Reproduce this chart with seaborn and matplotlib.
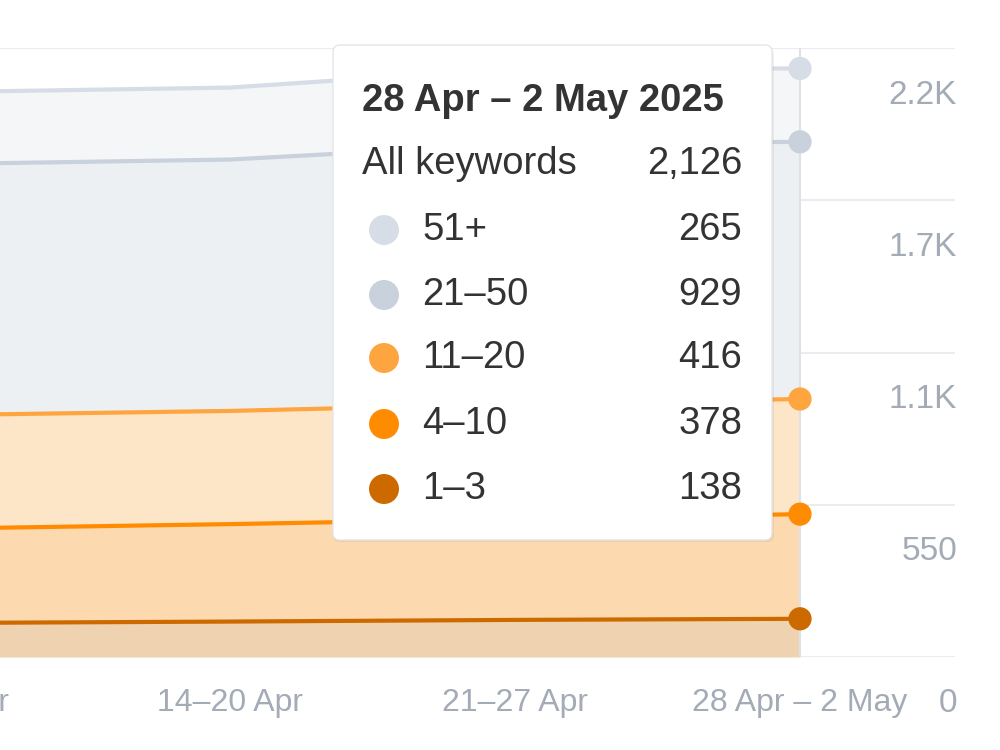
import numpy as np
import matplotlib
matplotlib.use("Agg")
import matplotlib.pyplot as plt
import matplotlib.transforms as mtransforms
from matplotlib.patches import FancyBboxPatch, Circle
import seaborn as sns

# weekly keyword counts by ranking position bucket
weeks = ["7–13 Apr", "14–20 Apr", "21–27 Apr", "28 Apr – 2 May"]
pos_1_3 = [123, 128, 134, 138]
pos_4_10 = [341, 352, 365, 378]
pos_11_20 = [410, 409, 415, 416]
pos_21_50 = [907, 908, 939, 929]
pos_51 = [260, 260, 273, 265]

series_names = ["1–3", "4–10", "11–20", "21–50", "51+"]
line_colors = ["#cc6a00", "#ff8c00", "#ffa53f", "#c8d1dc", "#d6dde6"]
fill_colors = ["#efd3b1", "#fdd9b0", "#fde5c7", "#edf0f3", "#f4f6f8"]

y_ticks = [0, 550, 1100, 1650, 2200]
y_labels = ["0", "550", "1.1K", "1.7K", "2.2K"]

sns.set_theme(style="white")
plt.rcParams['font.family'] = ['Liberation Sans', 'DejaVu Sans']

fig = plt.figure(figsize=(10, 7.5), dpi=100)
ax = fig.add_axes([-0.055, 93 / 750, 1.01, 609 / 750])

x = np.arange(len(weeks))
stack = np.cumsum(np.array([pos_1_3, pos_4_10, pos_11_20, pos_21_50, pos_51]), axis=0)

lower = np.zeros(len(weeks))
for i in range(len(series_names)):
    ax.fill_between(x, lower, stack[i], color=fill_colors[i], lw=0, zorder=1)
    lower = stack[i]

ax.axvline(x[-1], color="#dde2e8", lw=1.5, zorder=2)

for i in range(len(series_names)):
    sns.lineplot(x=x, y=stack[i], color=line_colors[i], linewidth=3, ax=ax, zorder=3)
    sns.scatterplot(x=[x[-1]], y=[stack[i][-1]], color=line_colors[i], s=280,
                    edgecolor="none", ax=ax, zorder=4)

ax.set_xlim(0, 1010 / 285)
ax.set_ylim(0, 2200)
ax.set_yticks(y_ticks)
ax.set_yticklabels([])
ax.yaxis.grid(True, color="#eaecef", lw=1.5)
ax.set_axisbelow(True)
for s in ax.spines.values():
    s.set_visible(False)

ax.set_xticks(x)
ax.set_xticklabels(weeks, fontsize=23, color="#a3abb6")
ax.tick_params(axis="x", length=0, pad=22)
ax.tick_params(axis="y", length=0)

# y labels sit below their gridlines, right aligned
ylab_tr = mtransforms.offset_copy(ax.get_yaxis_transform(), fig=fig, x=2, y=-47, units="dots")
for v, lab in zip(y_ticks, y_labels):
    ax.text(1.0, v, lab, transform=ylab_tr, ha="right", va="center",
            fontsize=24, color="#a3abb6", clip_on=False)

# tooltip
tr = fig.dpi_scale_trans
shadow = FancyBboxPatch((3.33, 2.08), 4.41, 4.95, boxstyle="round,pad=0,rounding_size=0.07",
                        transform=tr, facecolor="#000000", alpha=0.06, edgecolor="none", zorder=5)
box = FancyBboxPatch((3.33, 2.10), 4.39, 4.95, boxstyle="round,pad=0,rounding_size=0.07",
                     transform=tr, facecolor="white", edgecolor="#e3e6ea", lw=1, zorder=6)
fig.patches.extend([shadow, box])

fs = 27.5
fig.text(0.362, 1 - 101 / 750, "28 Apr – 2 May 2025", fontsize=fs, fontweight="bold",
         color="#333333", va="center", ha="left", zorder=7)
fig.text(0.362, 1 - 164 / 750, "All keywords", fontsize=fs, color="#333333",
         va="center", ha="left", zorder=7)
fig.text(0.742, 1 - 164 / 750, f"{int(stack[-1][-1]):,}", fontsize=fs, color="#333333",
         va="center", ha="right", zorder=7)

row_y = [230, 295, 358, 424, 489]
for j, i in enumerate(range(len(series_names) - 1, -1, -1)):
    yy = 1 - row_y[j] / 750
    fig.patches.append(Circle((3.84, 7.5 - row_y[j] / 100), 0.15, transform=tr,
                              facecolor=line_colors[i], edgecolor="none", zorder=7))
    fig.text(0.422, yy, series_names[i], fontsize=fs, color="#333333",
             va="center", ha="left", zorder=7)
    fig.text(0.742, yy, str(int(stack[i][-1] - (stack[i - 1][-1] if i > 0 else 0))),
             fontsize=fs, color="#333333", va="center", ha="right", zorder=7)

fig.savefig("out.png", dpi=100)
